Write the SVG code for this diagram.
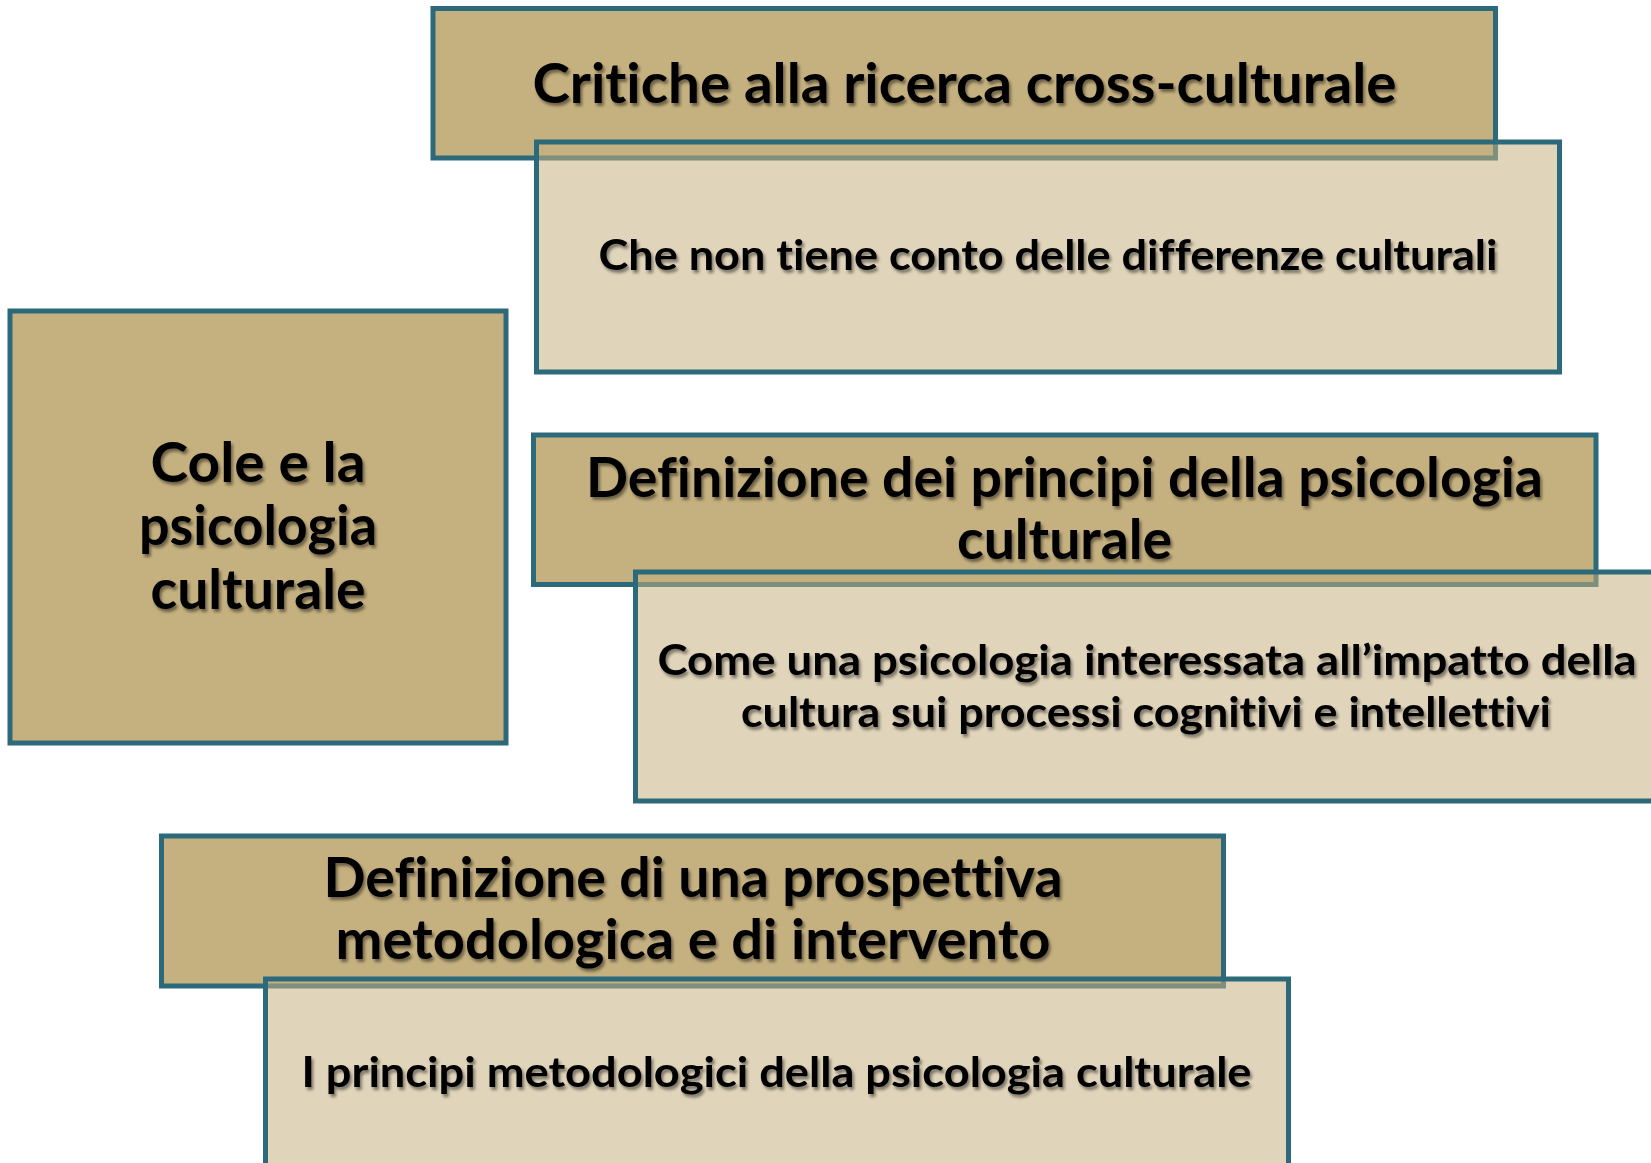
<svg xmlns="http://www.w3.org/2000/svg" width="1651" height="1163" viewBox="0 0 1651 1163">
  <defs>
    <filter id="tshadow" x="-5%" y="-20%" width="110%" height="150%">
      <feDropShadow dx="2" dy="3" stdDeviation="1.6" flood-color="#000" flood-opacity="0.45"/>
    </filter>
  </defs>
  <style>
    .dark { fill: #c5b07f; stroke: #2c6a7b; stroke-width: 5; }
    .light { fill: #c5b07f; fill-opacity: 0.54; stroke: #2c6a7b; stroke-width: 5; }
    .t { font-family: Lato, "Liberation Sans", "DejaVu Sans", sans-serif; font-weight: bold; fill: #000; text-anchor: middle; filter: url(#tshadow); font-variant-ligatures: none; font-feature-settings: "liga" 0, "clig" 0, "dlig" 0; }
    .big { font-size: 55px; }
    .small { font-size: 42px; }
  </style>
  <rect width="1651" height="1163" fill="#ffffff"/>

  <g id="cole">
    <rect class="dark" x="10" y="311" width="496" height="432"/>
    <text class="t big" x="258" y="482" textLength="215" lengthAdjust="spacingAndGlyphs">Cole e la</text>
    <text class="t big" x="258" y="545" textLength="238" lengthAdjust="spacingAndGlyphs">psicologia</text>
    <text class="t big" x="258" y="609" textLength="215" lengthAdjust="spacingAndGlyphs">culturale</text>
  </g>

  <g id="critiche">
    <rect class="dark" x="433" y="8.5" width="1062.5" height="149.5"/>
  </g>
  <g id="critiche-detail">
    <rect class="light" x="536.5" y="142" width="1023" height="230"/>
    <text class="t big" x="964.5" y="103" textLength="864" lengthAdjust="spacingAndGlyphs">Critiche alla ricerca cross-culturale</text>
    <text class="t small" x="1048" y="270" textLength="899" lengthAdjust="spacingAndGlyphs">Che non tiene conto delle differenze culturali</text>
  </g>

  <g id="principi">
    <rect class="dark" x="533.5" y="435" width="1062.5" height="149.5"/>
    <text class="t big" x="1064.5" y="497" textLength="957" lengthAdjust="spacingAndGlyphs">Definizione dei principi della psicologia</text>
    <text class="t big" x="1064.5" y="559" textLength="215" lengthAdjust="spacingAndGlyphs">culturale</text>
  </g>
  <g id="principi-detail">
    <rect class="light" x="635.5" y="572" width="1023" height="229"/>
    <text class="t small" x="1147" y="675" textLength="979" lengthAdjust="spacingAndGlyphs">Come una psicologia interessata all’impatto della</text>
    <text class="t small" x="1146" y="726.5" textLength="810" lengthAdjust="spacingAndGlyphs">cultura sui processi cognitivi e intellettivi</text>
  </g>

  <g id="prospettiva">
    <rect class="dark" x="161.5" y="836" width="1062" height="150"/>
    <text class="t big" x="693" y="897" textLength="739" lengthAdjust="spacingAndGlyphs">Definizione di una prospettiva</text>
    <text class="t big" x="693" y="958.5" textLength="715" lengthAdjust="spacingAndGlyphs">metodologica e di intervento</text>
  </g>
  <g id="prospettiva-detail">
    <rect class="light" x="265.5" y="979" width="1023" height="230"/>
    <text class="t small" x="776.5" y="1087" textLength="950" lengthAdjust="spacingAndGlyphs">I principi metodologici della psicologia culturale</text>
  </g>

  <g id="connectors"></g>
</svg>
